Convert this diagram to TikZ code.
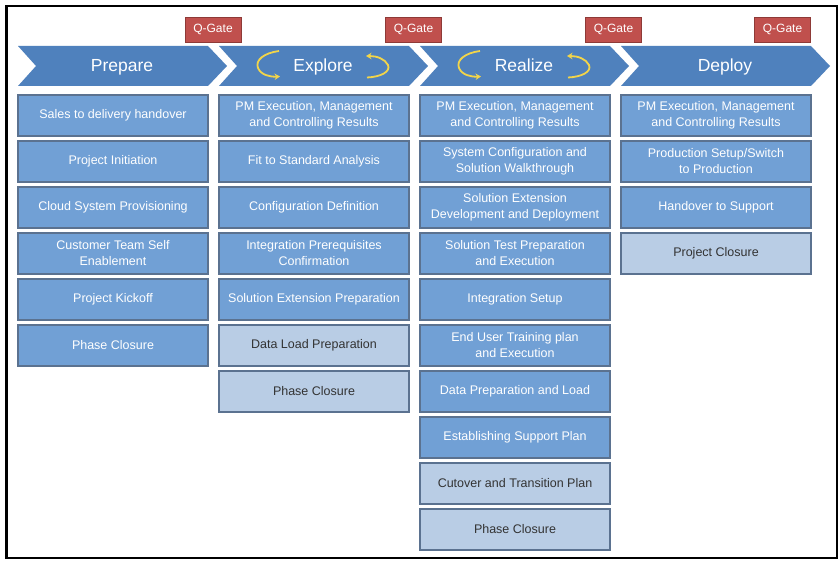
\documentclass[tikz,border=0pt]{standalone}
\usepackage{fontspec}
\setmainfont{Liberation Sans}
\usetikzlibrary{arrows.meta}
\definecolor{chev}{HTML}{4F81BD}
\definecolor{darkfill}{HTML}{71A0D5}
\definecolor{lightfill}{HTML}{B9CDE5}
\definecolor{boxline}{HTML}{5B7290}
\definecolor{qred}{HTML}{C0504D}
\definecolor{qline}{HTML}{8E3A37}
\definecolor{arrowyel}{HTML}{F2D54A}
\definecolor{txtgray}{HTML}{333333}
\tikzset{
  task/.style={draw=boxline, line width=1.2pt, minimum width=190pt, minimum height=41pt,
    inner sep=0pt, align=center, font=\fontsize{12.5}{16}\selectfont},
  dk/.style={task, fill=darkfill, text=white},
  lt/.style={task, fill=lightfill, text=txtgray},
  qgate/.style={draw=qline, line width=0.8pt, fill=qred, text=white, minimum width=56pt,
    minimum height=25pt, inner sep=0pt, font=\fontsize{12}{14}\selectfont},
  phase/.style={text=white, anchor=base, inner sep=0pt, font=\fontsize{17.5}{20}\selectfont},
  chevron/.style={fill=chev},
  cyc/.style={draw=arrowyel, line width=1.8pt, -{Stealth[length=5.5pt,width=6.5pt]}}
}
\begin{document}
\begin{tikzpicture}[x=1pt,y=-1pt]
\useasboundingbox (0,0) rectangle (839,561);
\fill[white] (0,0) rectangle (839,561);
\draw[line width=2.5pt] (6.5,6) rectangle (837,558);

% chevrons
\foreach \x in {18,219,420,621}{
  \fill[chevron] (\x,46) -- ++(190,0) -- ++(19,20) -- ++(-19,20) -- ++(-190,0) -- ++(18,-20) -- cycle;
}
\node[phase] (ph1) at (122,71.5) {Prepare};
\node[phase] (ph2) at (323,71.5) {Explore};
\node[phase] (ph3) at (524,71.5) {Realize};
\node[phase] (ph4) at (725,71.5) {Deploy};

% cycle arrows
\foreach \s in {0,201}{
  \begin{scope}[xshift=\s pt]
    \draw[cyc] (279,51) .. controls (264,53) and (255,60) .. (258,68) .. controls (261,75) and (270,77) .. (280,76.5);
    \draw[cyc] (367,77.5) .. controls (380,77) and (391,72) .. (388,65) .. controls (385,59) and (377,56) .. (366,56);
  \end{scope}
}

% Q-Gates
\node[qgate] (q1) at (213,29.5) {Q-Gate};
\node[qgate] (q2) at (413.5,29.5) {Q-Gate};
\node[qgate] (q3) at (613.5,29.5) {Q-Gate};
\node[qgate] (q4) at (782.5,29.5) {Q-Gate};

% Prepare
\node[dk] (p1) at (113,115.5) {Sales to delivery handover};
\node[dk] (p2) at (113,161.5) {Project Initiation};
\node[dk] (p3) at (113,207.5) {Cloud System Provisioning};
\node[dk] (p4) at (113,253.5) {Customer Team Self\\Enablement};
\node[dk] (p5) at (113,299.5) {Project Kickoff};
\node[dk] (p6) at (113,345.5) {Phase Closure};

% Explore
\node[dk] (e1) at (314,115.5) {PM Execution, Management\\and Controlling Results};
\node[dk] (e2) at (314,161.5) {Fit to Standard Analysis};
\node[dk] (e3) at (314,207.5) {Configuration Definition};
\node[dk] (e4) at (314,253.5) {Integration Prerequisites\\Confirmation};
\node[dk] (e5) at (314,299.5) {Solution Extension Preparation};
\node[lt] (e6) at (314,345.5) {Data Load Preparation};
\node[lt] (e7) at (314,391.5) {Phase Closure};

% Realize
\node[dk] (r1) at (515,115.5) {PM Execution, Management\\and Controlling Results};
\node[dk] (r2) at (515,161.5) {System Configuration and\\Solution Walkthrough};
\node[dk] (r3) at (515,207.5) {Solution Extension\\Development and Deployment};
\node[dk] (r4) at (515,253.5) {Solution Test Preparation\\and Execution};
\node[dk] (r5) at (515,299.5) {Integration Setup};
\node[dk] (r6) at (515,345.5) {End User Training plan\\and Execution};
\node[dk] (r7) at (515,391.5) {Data Preparation and Load};
\node[dk] (r8) at (515,437.5) {Establishing Support Plan};
\node[lt] (r9) at (515,483.5) {Cutover and Transition Plan};
\node[lt] (r10) at (515,529.5) {Phase Closure};

% Deploy
\node[dk] (d1) at (716,115.5) {PM Execution, Management\\and Controlling Results};
\node[dk] (d2) at (716,161.5) {Production Setup/Switch\\to Production};
\node[dk] (d3) at (716,207.5) {Handover to Support};
\node[lt] (d4) at (716,253.5) {Project Closure};
\end{tikzpicture}
\end{document}
